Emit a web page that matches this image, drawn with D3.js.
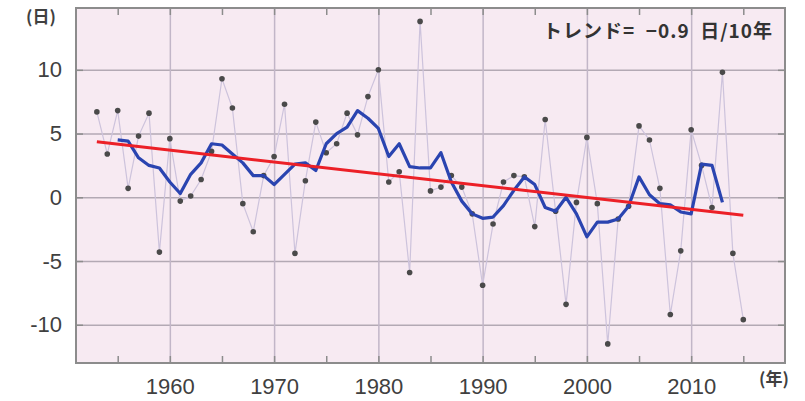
<!doctype html>
<html>
<head>
<meta charset="UTF-8" />
<title></title>
<script src="https://d3js.org/d3.v7.min.js"></script>
<style>
  body { margin: 0; background: #fff; }
  svg text { font-family: "Liberation Sans", Arial, sans-serif; }
</style>
</head>
<body>
<div id="container"></div>
<script>

// yearly anomaly (days)
const years = d3.range(1953, 2016);
const values = [
  6.7, 3.4, 6.8, 0.7, 4.8, 6.6, -4.3, 4.6, -0.3, 0.1,
  1.4, 3.6, 9.3, 7.0, -0.5, -2.7, 1.7, 3.2, 7.3, -4.4,
  1.3, 5.9, 3.5, 4.2, 6.6, 4.9, 7.9, 10.0, 1.2, 2.0,
  -5.9, 13.8, 0.5, 0.8, 1.7, 0.8, -1.3, -6.9, -2.1, 1.2,
  1.7, 1.6, -2.3, 6.1, -1.1, -8.4, -0.4, 4.7, -0.5, -11.5,
  -1.7, -0.7, 5.6, 4.5, 0.7, -9.2, -4.2, 5.3, 2.5, -0.8,
  9.8, -4.4, -9.6
];

// 5-year running mean (blue)
const meanYears = d3.range(1955, 2014);
const meanValues = [
  4.5, 4.4, 3.1, 2.5, 2.3, 1.2, 0.3, 1.8, 2.7, 4.2,
  4.1, 3.4, 2.7, 1.7, 1.7, 1.0, 1.8, 2.6, 2.7, 2.1,
  4.2, 5.0, 5.5, 6.8, 6.2, 5.4, 3.2, 4.2, 2.4, 2.3,
  2.3, 3.5, 1.2, -0.3, -1.3, -1.65, -1.55, -0.65, 0.55, 1.6,
  1.0, -0.8, -1.1, 0.0, -1.3, -3.1, -1.95, -1.95, -1.7, -0.7,
  1.6, 0.2, -0.5, -0.6, -1.15, -1.3, 2.6, 2.5, -0.4
];

// linear trend (red)
const trendYears = [1953, 2015];
const trendValues = [4.35, -1.4];

const yTicks = [-10, -5, 0, 5, 10];
const xTicks = [1960, 1970, 1980, 1990, 2000, 2010];
const xMinor = [1955, 1965, 1975, 1985, 1995, 2005, 2015];

const width = 805, height = 401;
const plotLeft = 76, plotRight = 785, plotTop = 8, plotBottom = 363;

const x = d3.scaleLinear().domain([1951, 2019]).range([plotLeft, plotRight]);
const y = d3.scaleLinear().domain([-13, 14.85]).range([plotBottom, plotTop]);

const svg = d3.select("#container").append("svg")
    .attr("width", width)
    .attr("height", height);

// plot background
svg.append("rect")
    .attr("x", plotLeft).attr("y", plotTop)
    .attr("width", plotRight - plotLeft).attr("height", plotBottom - plotTop)
    .attr("fill", "#f7eaf2");

// grid
const gy = svg.append("g")
    .attr("transform", `translate(${plotLeft},0)`)
    .call(d3.axisLeft(y).tickValues(yTicks).tickSize(-(plotRight - plotLeft)).tickFormat(""));
gy.select(".domain").remove();
gy.selectAll("line").attr("stroke", "#b3a9b4").attr("stroke-width", 1.5);

const gx = svg.append("g")
    .attr("transform", `translate(0,${plotBottom})`)
    .call(d3.axisBottom(x).tickValues(xTicks).tickSize(-(plotBottom - plotTop)).tickFormat(""));
gx.select(".domain").remove();
gx.selectAll("line").attr("stroke", "#c2b6c8").attr("stroke-width", 1.5);

// small inward ticks
function ticks(axis, tx, ty) {
  const g = svg.append("g").attr("transform", `translate(${tx},${ty})`).call(axis);
  g.select(".domain").remove();
  g.selectAll("line").attr("stroke", "#8c8c8c").attr("stroke-width", 1.5);
  return g;
}
ticks(d3.axisBottom(x).tickValues(xMinor.concat(xTicks)).tickSize(-7).tickFormat(""), 0, plotBottom);
ticks(d3.axisTop(x).tickValues(xMinor.concat(xTicks)).tickSize(-7).tickFormat(""), 0, plotTop);
ticks(d3.axisLeft(y).tickValues(yTicks).tickSize(-7).tickFormat(""), plotLeft, 0);
ticks(d3.axisRight(y).tickValues(yTicks).tickSize(-7).tickFormat(""), plotRight, 0);

// frame
svg.append("rect")
    .attr("x", plotLeft).attr("y", plotTop)
    .attr("width", plotRight - plotLeft).attr("height", plotBottom - plotTop)
    .attr("fill", "none")
    .attr("stroke", "#8c8c8c")
    .attr("stroke-width", 2);

// tick labels
const ly = svg.append("g")
    .attr("transform", `translate(${plotLeft},0)`)
    .call(d3.axisLeft(y).tickValues(yTicks).tickSize(0).tickPadding(14).tickFormat(d => String(d)));
ly.select(".domain").remove();
ly.selectAll("text").attr("font-size", 22).attr("fill", "#404040");

const lx = svg.append("g")
    .attr("transform", `translate(0,${plotBottom})`)
    .call(d3.axisBottom(x).tickValues(xTicks).tickSize(0).tickPadding(15).tickFormat(d => String(d)));
lx.select(".domain").remove();
lx.selectAll("text").attr("font-size", 22).attr("fill", "#404040");

// yearly values
const pts = years.map((yr, i) => [yr, values[i]]);
svg.append("path")
    .datum(pts)
    .attr("fill", "none")
    .attr("stroke", "#cdc3dc")
    .attr("stroke-width", 1.2)
    .attr("d", d3.line().x(d => x(d[0])).y(d => y(d[1])));

svg.append("g")
  .selectAll("circle")
  .data(pts)
  .join("circle")
    .attr("cx", d => x(d[0]))
    .attr("cy", d => y(d[1]))
    .attr("r", 2.8)
    .attr("fill", "#4a4a4a");

// running mean
svg.append("path")
    .datum(meanYears.map((yr, i) => [yr, meanValues[i]]))
    .attr("fill", "none")
    .attr("stroke", "#2a44b0")
    .attr("stroke-width", 3.2)
    .attr("stroke-linejoin", "round")
    .attr("d", d3.line().x(d => x(d[0])).y(d => y(d[1])));

// trend
svg.append("path")
    .datum(trendYears.map((yr, i) => [yr, trendValues[i]]))
    .attr("fill", "none")
    .attr("stroke", "#ec2027")
    .attr("stroke-width", 3)
    .attr("d", d3.line().x(d => x(d[0])).y(d => y(d[1])));

// annotations
svg.append("text")
    .attr("x", 773).attr("y", 38)
    .attr("text-anchor", "end")
    .attr("font-size", 19)
    .attr("font-weight", "bold")
    .attr("letter-spacing", 1)
    .attr("fill", "#333")
    .style("white-space", "pre")
    .style("font-family", "'Noto Sans CJK JP', sans-serif")
    .text("トレンド=  −0.9  日/10年");

svg.append("text")
    .attr("x", 26).attr("y", 23)
    .attr("font-size", 17)
    .attr("font-weight", "bold")
    .attr("fill", "#404040")
    .style("font-family", "'Noto Sans CJK JP', sans-serif")
    .text("(日)");

svg.append("text")
    .attr("x", 759).attr("y", 385)
    .attr("font-size", 17)
    .attr("font-weight", "bold")
    .attr("fill", "#404040")
    .style("font-family", "'Noto Sans CJK JP', sans-serif")
    .text("(年)");

</script>
</body>
</html>
